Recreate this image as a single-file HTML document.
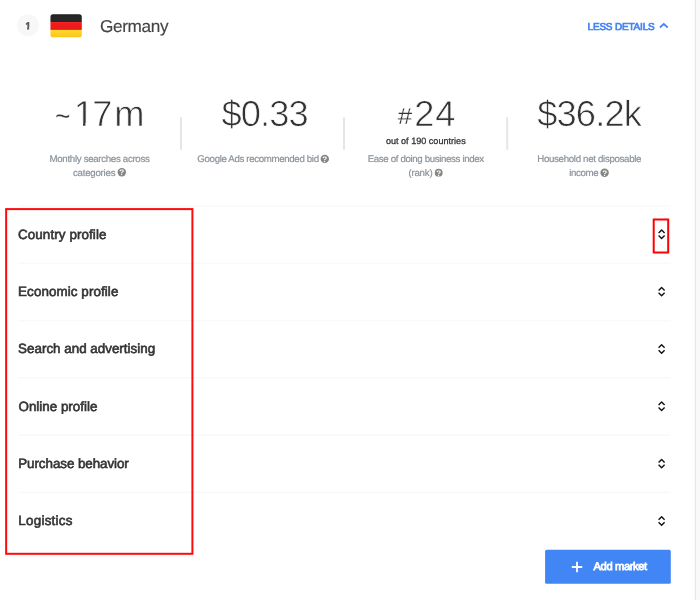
<!DOCTYPE html>
<html lang="en"><head><meta charset="utf-8"><title>Germany market details</title>
<style>
html,body{margin:0;padding:0;background:#f9f9f9;}
body{width:700px;height:600px;overflow:hidden;font-family:"Liberation Sans",sans-serif;}
svg{display:block;font-family:"Liberation Sans",sans-serif;}
text{text-rendering:geometricPrecision;}
</style></head><body>
<svg width="700" height="600" viewBox="0 0 700 600">
<rect x="0" y="0" width="700" height="600" fill="#f9f9f9"/>
<rect x="-5" y="-5" width="700.3" height="610" fill="#fff" stroke="#e6e6e6" stroke-width="1.2"/>

<circle cx="28" cy="25.5" r="11" fill="#f7f7f7"/>
<defs><linearGradient id="gk" x1="0" y1="0" x2="0" y2="1"><stop offset="0" stop-color="#1c1c1c"/><stop offset="0.25" stop-color="#272727"/><stop offset="1" stop-color="#262626"/></linearGradient><linearGradient id="gr" x1="0" y1="0" x2="0" y2="1"><stop offset="0" stop-color="#f71a1a"/><stop offset="1" stop-color="#e51b1b"/></linearGradient><linearGradient id="gy" x1="0" y1="0" x2="0" y2="1"><stop offset="0" stop-color="#ffd82c"/><stop offset="1" stop-color="#fbc41a"/></linearGradient></defs><path d="M50.45,22.05 V16.95 Q50.45,14.35 53.050000000000004,14.35 H79.20000000000002 Q81.80000000000001,14.35 81.80000000000001,16.95 V22.05 Z" fill="url(#gk)"/><rect x="50.45" y="22.05" width="31.35" height="7.85" fill="url(#gr)"/><path d="M50.45,29.9 V34.75 Q50.45,37.35 53.050000000000004,37.35 H79.20000000000002 Q81.80000000000001,37.35 81.80000000000001,34.75 V29.9 Z" fill="url(#gy)"/>
<path d="M659.9,27.5 L663.8,24.0 L667.7,27.5" fill="none" stroke="#4285f4" stroke-width="1.7"/>
<rect x="180" y="117.2" width="2" height="32.6" fill="#e6e6e6"/>
<rect x="343" y="117.2" width="2" height="32.6" fill="#e6e6e6"/>
<rect x="506.2" y="117.2" width="2" height="32.6" fill="#e6e6e6"/>
<rect x="18.4" y="205.30" width="652.2" height="1.5" fill="#f9f9f9"/>
<rect x="18.4" y="262.58" width="652.2" height="1.5" fill="#f9f9f9"/>
<rect x="18.4" y="319.86" width="652.2" height="1.5" fill="#f9f9f9"/>
<rect x="18.4" y="377.14" width="652.2" height="1.5" fill="#f9f9f9"/>
<rect x="18.4" y="434.42" width="652.2" height="1.5" fill="#f9f9f9"/>
<rect x="18.4" y="491.70" width="652.2" height="1.5" fill="#f9f9f9"/>
<g><circle cx="121.8" cy="172.3" r="4.2" fill="#858585"/><text x="121.8" y="175.15" font-size="8" font-weight="bold" fill="#fff" text-anchor="middle">?</text></g>
<g><circle cx="324.8" cy="158.9" r="4.2" fill="#858585"/><text x="324.8" y="161.75" font-size="8" font-weight="bold" fill="#fff" text-anchor="middle">?</text></g>
<g><circle cx="438.7" cy="172.7" r="3.9" fill="#858585"/><text x="438.7" y="175.55" font-size="8" font-weight="bold" fill="#fff" text-anchor="middle">?</text></g>
<g><circle cx="604.6" cy="172.8" r="4.2" fill="#858585"/><text x="604.6" y="175.65" font-size="8" font-weight="bold" fill="#fff" text-anchor="middle">?</text></g>
<path d="M658.60,233.10 L661.60,230.10 L664.60,233.10 M658.60,235.50 L661.60,238.50 L664.60,235.50" fill="none" stroke="#111" stroke-width="1.4" stroke-linejoin="round"/>
<path d="M658.60,290.43 L661.60,287.43 L664.60,290.43 M658.60,292.83 L661.60,295.83 L664.60,292.83" fill="none" stroke="#111" stroke-width="1.4" stroke-linejoin="round"/>
<path d="M658.60,347.76 L661.60,344.76 L664.60,347.76 M658.60,350.16 L661.60,353.16 L664.60,350.16" fill="none" stroke="#111" stroke-width="1.4" stroke-linejoin="round"/>
<path d="M658.60,405.09 L661.60,402.09 L664.60,405.09 M658.60,407.49 L661.60,410.49 L664.60,407.49" fill="none" stroke="#111" stroke-width="1.4" stroke-linejoin="round"/>
<path d="M658.60,462.42 L661.60,459.42 L664.60,462.42 M658.60,464.82 L661.60,467.82 L664.60,464.82" fill="none" stroke="#111" stroke-width="1.4" stroke-linejoin="round"/>
<path d="M658.60,519.75 L661.60,516.75 L664.60,519.75 M658.60,522.15 L661.60,525.15 L664.60,522.15" fill="none" stroke="#111" stroke-width="1.4" stroke-linejoin="round"/>
<rect x="6.15" y="209.1" width="186.25" height="344.7" fill="none" stroke="#fe0a0a" stroke-width="2"/>
<rect x="653.7" y="219.5" width="14.5" height="33" fill="none" stroke="#fe0000" stroke-width="2"/>
<rect x="545.1" y="549.8" width="125.7" height="34" rx="1.6" fill="#4285f4"/>
<path d="M571.8,567 H582.2 M577,561.8 V572.2" stroke="#fff" stroke-width="1.8" fill="none"/>
<text id="one" x="25.46" y="29.00" font-size="9.6" fill="#5c5c5c" stroke="#5c5c5c" stroke-width="1.0">1</text>
<text id="ger" x="100.00" y="32.00" font-size="17.2" fill="#444" textLength="68.49" lengthAdjust="spacing" stroke="#444" stroke-width="0.15">Germany</text>
<text id="less" x="587.55" y="29.80" font-size="10.0" fill="#4285f4" textLength="67.14" lengthAdjust="spacing" stroke="#4285f4" stroke-width="0.7">LESS DETAILS</text>
<text id="til" x="54.94" y="126.00" font-size="30" fill="#3a3a3a" textLength="15.39" lengthAdjust="spacingAndGlyphs" stroke="#fff" stroke-width="0.25">~</text>
<text id="n17" x="73.69 92.23 114.36" y="126.10" font-size="36.3" fill="#333" stroke="#fff" stroke-width="0.7">17m</text>
<text id="n033" x="221.51" y="125.90" font-size="36.3" fill="#333" textLength="87.11" lengthAdjust="spacing" stroke="#fff" stroke-width="0.7">$0.33</text>
<text id="hash" x="397.68" y="123.60" font-size="23.2" fill="#333" textLength="14.44" lengthAdjust="spacingAndGlyphs" stroke="#fff" stroke-width="0.2">#</text>
<text id="n24" x="414.24" y="126.10" font-size="36.3" fill="#333" textLength="41.26" lengthAdjust="spacing" stroke="#fff" stroke-width="0.7">24</text>
<text id="n362" x="537.13" y="126.00" font-size="36.3" fill="#333" textLength="104.90" lengthAdjust="spacing" stroke="#fff" stroke-width="0.7">$36.2k</text>
<text id="outof" x="385.91" y="144.40" font-size="9.1" fill="#333" textLength="79.77" lengthAdjust="spacing" stroke="#333" stroke-width="0.28">out of 190 countries</text>
<text id="l1a" x="49.52" y="162.20" font-size="9.7" fill="#8b939b" textLength="100.28" lengthAdjust="spacing" stroke="#8b939b" stroke-width="0.2">Monthly searches across</text>
<text id="l1b" x="73.02" y="175.90" font-size="9.7" fill="#8b939b" textLength="42.47" lengthAdjust="spacing" stroke="#8b939b" stroke-width="0.2">categories</text>
<text id="l2a" x="197.37" y="162.10" font-size="9.7" fill="#8b939b" textLength="121.66" lengthAdjust="spacing" stroke="#8b939b" stroke-width="0.2">Google Ads recommended bid</text>
<text id="l3a" x="367.73" y="162.40" font-size="9.7" fill="#8b939b" textLength="116.42" lengthAdjust="spacing" stroke="#8b939b" stroke-width="0.2">Ease of doing business index</text>
<text id="l3b" x="408.44" y="176.00" font-size="9.7" fill="#8b939b" textLength="24.18" lengthAdjust="spacing" stroke="#8b939b" stroke-width="0.2">(rank)</text>
<text id="l4a" x="537.28" y="162.30" font-size="9.7" fill="#8b939b" textLength="104.14" lengthAdjust="spacing" stroke="#8b939b" stroke-width="0.2">Household net disposable</text>
<text id="l4b" x="569.24" y="176.00" font-size="9.7" fill="#8b939b" textLength="29.33" lengthAdjust="spacing" stroke="#8b939b" stroke-width="0.2">income</text>
<text id="r1" x="18.01" y="238.70" font-size="13.4" fill="#333" textLength="88.46" lengthAdjust="spacing" stroke="#333" stroke-width="0.6">Country profile</text>
<text id="r2" x="18.09" y="296.03" font-size="13.4" fill="#333" textLength="100.26" lengthAdjust="spacing" stroke="#333" stroke-width="0.6">Economic profile</text>
<text id="r3" x="18.11" y="353.36" font-size="13.4" fill="#333" textLength="136.99" lengthAdjust="spacing" stroke="#333" stroke-width="0.6">Search and advertising</text>
<text id="r4" x="18.51" y="410.69" font-size="13.4" fill="#333" textLength="78.83" lengthAdjust="spacing" stroke="#333" stroke-width="0.6">Online profile</text>
<text id="r5" x="18.23" y="468.02" font-size="13.4" fill="#333" textLength="110.60" lengthAdjust="spacing" stroke="#333" stroke-width="0.6">Purchase behavior</text>
<text id="r6" x="18.23" y="525.35" font-size="13.4" fill="#333" textLength="54.30" lengthAdjust="spacing" stroke="#333" stroke-width="0.6">Logistics</text>
<text id="add" x="593.50" y="570.20" font-size="11.2" fill="#fff" textLength="53.71" lengthAdjust="spacing" stroke="#fff" stroke-width="0.75">Add market</text>
<rect x="74.00" y="122.9" width="9" height="4.5" fill="#fff"/><rect x="85.40" y="122.9" width="9" height="4.5" fill="#fff"/>
<rect x="24.06" y="26.9" width="3" height="3.5" fill="#f7f7f7"/><rect x="29.14" y="26.9" width="3" height="3.5" fill="#f7f7f7"/>
</svg></body></html>
